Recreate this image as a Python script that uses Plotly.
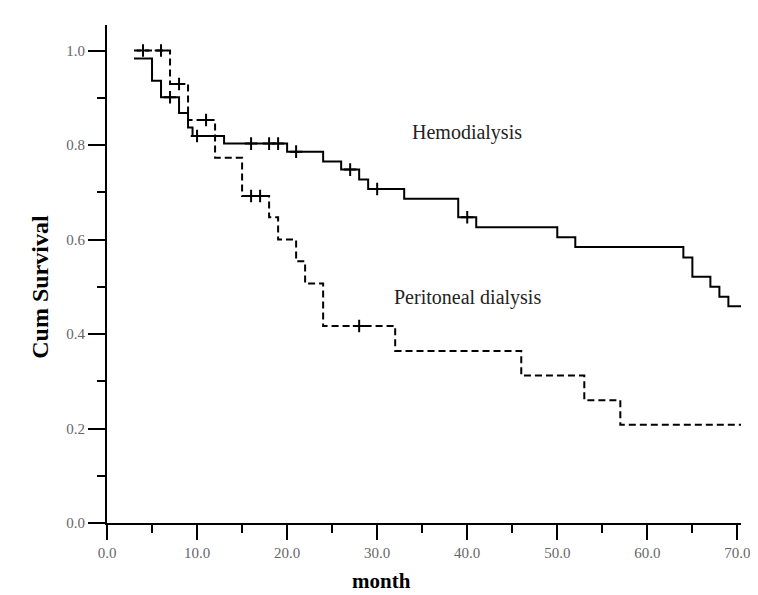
import plotly.graph_objects as go
import numpy as np

# Hemodialysis (solid) Kaplan-Meier steps
hd_time = [3.0, 5, 6, 8, 9, 9.5, 13, 20, 24, 26, 28, 29, 33, 39, 41, 50, 52, 64, 65, 67, 68, 69, 70.4]
hd_surv = [0.983, 0.936, 0.901, 0.868, 0.837, 0.819, 0.803, 0.786, 0.765, 0.748, 0.727, 0.707,
           0.686, 0.647, 0.626, 0.605, 0.584, 0.562, 0.521, 0.500, 0.479, 0.459, 0.459]
hd_censor = [7, 10, 16, 18, 19, 21, 27, 30, 40]

# Peritoneal dialysis (dashed) Kaplan-Meier steps
pd_time = [3.0, 7, 9, 12, 15, 18, 19, 21, 22, 24, 32, 46, 53, 57, 70.4]
pd_surv = [1.0, 0.929, 0.853, 0.773, 0.692, 0.647, 0.600, 0.554, 0.507, 0.417, 0.364, 0.312,
           0.260, 0.208, 0.208]
pd_censor = [4, 6, 8, 11, 16, 17, 28]

x_ticks = [0, 10, 20, 30, 40, 50, 60, 70]
y_ticks = [0.0, 0.2, 0.4, 0.6, 0.8, 1.0]


def step_value(times, surv, t):
    idx = np.searchsorted(times, t, side="right") - 1
    return surv[max(idx, 0)]


fig = go.Figure()
fig.add_trace(go.Scatter(x=hd_time, y=hd_surv, mode="lines", line_shape="hv",
                         line=dict(color="black", width=2), showlegend=False))
fig.add_trace(go.Scatter(x=pd_time, y=pd_surv, mode="lines", line_shape="hv",
                         line=dict(color="black", width=2, dash="7px,4px"), showlegend=False))
fig.add_trace(go.Scatter(x=hd_censor, y=[step_value(hd_time, hd_surv, t) for t in hd_censor],
                         mode="markers",
                         marker=dict(symbol="cross-thin", size=9, line=dict(color="black", width=2)),
                         showlegend=False))
fig.add_trace(go.Scatter(x=pd_censor, y=[step_value(pd_time, pd_surv, t) for t in pd_censor],
                         mode="markers",
                         marker=dict(symbol="cross-thin", size=9, line=dict(color="black", width=2)),
                         showlegend=False))

serif = "Liberation Serif, Times New Roman, serif"

fig.add_annotation(x=40, y=0.826, text="Hemodialysis", showarrow=False,
                   font=dict(family=serif, size=20, color="#222"))
fig.add_annotation(x=40, y=0.477, text="Peritoneal dialysis", showarrow=False,
                   font=dict(family=serif, size=20, color="#222"))
fig.add_annotation(x=0, y=0.5, xshift=-67, text="<b>Cum Survival</b>", showarrow=False,
                   textangle=-90, font=dict(family=serif, size=24, color="black"))
fig.add_annotation(x=30.5, y=0, yshift=-58, yanchor="middle", text="<b>month</b>", showarrow=False,
                   font=dict(family=serif, size=21, color="black"))

fig.update_layout(
    width=758, height=595,
    margin=dict(l=99, r=25, t=17, b=80),
    paper_bgcolor="white", plot_bgcolor="white",
    xaxis=dict(range=[0, 70.4], tickvals=x_ticks, ticktext=[f"{v:.1f}" for v in x_ticks],
               showgrid=False, zeroline=False, showline=True, linecolor="black", linewidth=2,
               ticks="outside", ticklen=15, tickwidth=2, tickcolor="black",
               tickfont=dict(family=serif, size=15, color="#666"),
               minor=dict(tickvals=[5, 15, 25, 35, 45, 55, 65], ticks="outside", ticklen=8,
                          tickwidth=2, tickcolor="black")),
    yaxis=dict(range=[0, 1.054], tickvals=y_ticks, ticktext=[f"{v:.1f}" for v in y_ticks],
               showgrid=False, zeroline=False, showline=True, linecolor="black", linewidth=2,
               ticks="outside", ticklen=17, tickwidth=2, tickcolor="black",
               tickfont=dict(family=serif, size=15, color="#666"),
               minor=dict(tickvals=[0.1, 0.3, 0.5, 0.7, 0.9], ticks="outside", ticklen=8,
                          tickwidth=2, tickcolor="black")),
)

fig.write_html("out.html")
